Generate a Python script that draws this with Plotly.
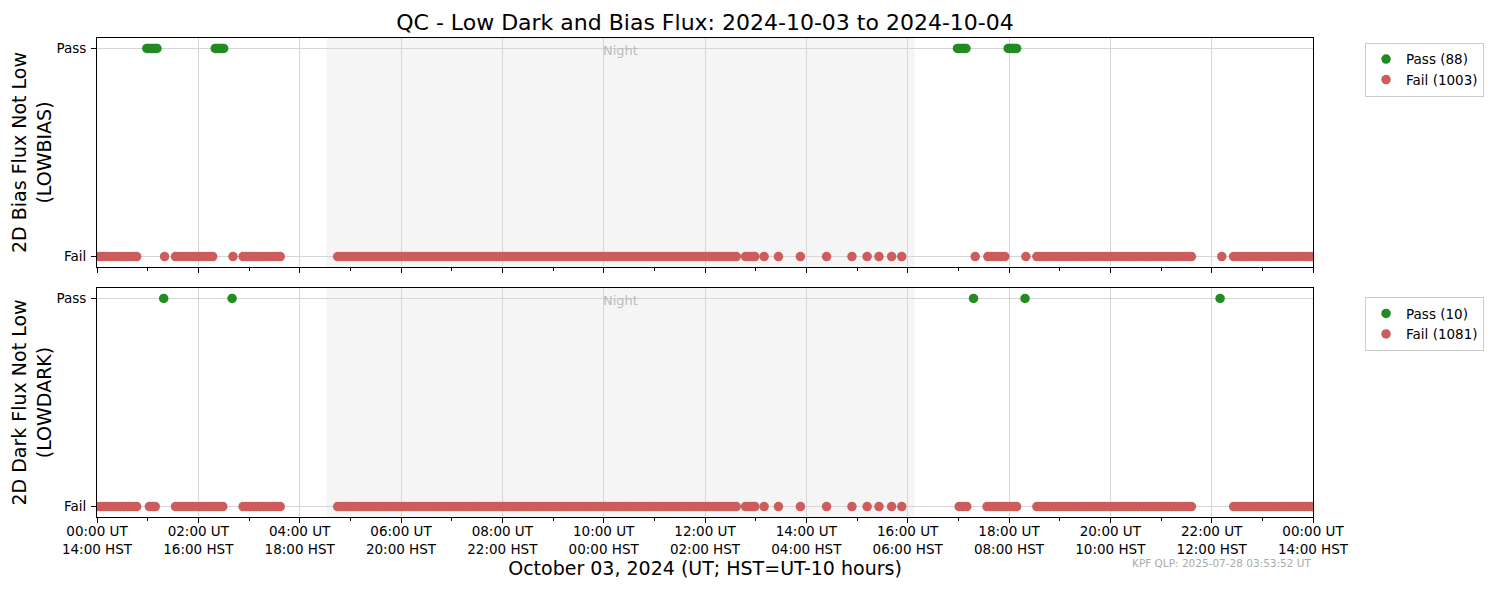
import numpy as np
import plotly.graph_objects as go
from plotly.subplots import make_subplots

# ---- data (minutes after 2024-10-03 00:00 UT) ----
fail_early = [0, 4, 8, 12, 16, 20, 24, 28, 32, 36, 40, 44, 47]
fail_mid_top = [80, 93, 97, 101, 105, 109, 113, 117, 121, 125, 129, 133, 137, 161]
fail_mid_bot = [62, 66, 69, 93, 97, 101, 105, 109, 113, 117, 121, 125, 129, 133, 137,
                141, 145, 149]
fail_run_c = [173, 177, 181, 185, 189, 193, 197, 201, 205, 209, 213, 217]
fail_night = [285, 289, 293, 297, 301, 305, 309, 313, 317, 321,
              325, 329, 333, 337, 341, 345, 349, 353, 357, 361,
              365, 369, 373, 377, 381, 385, 389, 393, 397, 401,
              405, 409, 413, 417, 421, 425, 429, 433, 437, 441,
              445, 449, 453, 457, 461, 465, 469, 473, 477, 481,
              485, 489, 493, 497, 501, 505, 509, 513, 517, 521,
              525, 529, 533, 537, 541, 545, 549, 553, 557, 561,
              565, 569, 573, 577, 581, 585, 589, 593, 597, 601,
              605, 609, 613, 617, 621, 625, 629, 633, 637, 641,
              645, 649, 653, 657, 661, 665, 669, 673, 677, 681,
              685, 689, 693, 697, 701, 705, 709, 713, 717, 721,
              725, 729, 733, 737, 741, 745, 749, 753, 757]
fail_dawn = [768, 772, 776, 779, 790, 807, 833, 864, 894, 912, 926, 941, 953]
fail_pm_top = [1040, 1055, 1059, 1063, 1067, 1071, 1075, 1100]
fail_pm_bot = [1021, 1025, 1030, 1054, 1058, 1062, 1066, 1070, 1074, 1078, 1082,
               1086, 1089]
fail_day = [1113, 1117, 1121, 1125, 1129, 1133, 1137, 1141, 1145, 1149, 1153, 1157,
            1161, 1165, 1169, 1173, 1177, 1181, 1185, 1189, 1193, 1197, 1201, 1205,
            1209, 1213, 1217, 1221, 1225, 1229, 1233, 1237, 1241, 1245, 1249, 1253,
            1257, 1261, 1265, 1269, 1273, 1277, 1281, 1285, 1289, 1293, 1296]
fail_late_top = [1332]
fail_end = [1346, 1350, 1354, 1358, 1362, 1366, 1370, 1374, 1378, 1382, 1386, 1390,
            1394, 1398, 1402, 1406, 1410, 1414, 1418, 1422, 1426, 1430, 1434, 1438, 1440]

pass_top = [59, 61, 63, 65, 67, 69, 71, 140, 142, 144, 146, 148, 150,
            1019, 1021, 1023, 1025, 1027, 1029, 1079, 1081, 1083, 1085, 1087, 1089]
pass_bot = [79, 160, 1038, 1099, 1330]

fail_top = (fail_early + fail_mid_top + fail_run_c + fail_night + fail_dawn
            + fail_pm_top + fail_day + fail_late_top + fail_end)
fail_bot = (fail_early + fail_mid_bot + fail_run_c + fail_night + fail_dawn
            + fail_pm_bot + fail_day + fail_end)

legend_counts_top = {"Pass": 88, "Fail": 1003}
legend_counts_bot = {"Pass": 10, "Fail": 1081}

night_start_min = 272
night_end_min = 968

tick_hours = [0, 2, 4, 6, 8, 10, 12, 14, 16, 18, 20, 22, 24]
tick_ut = ["00:00 UT", "02:00 UT", "04:00 UT", "06:00 UT", "08:00 UT", "10:00 UT",
           "12:00 UT", "14:00 UT", "16:00 UT", "18:00 UT", "20:00 UT", "22:00 UT",
           "00:00 UT"]
tick_hst = ["14:00 HST", "16:00 HST", "18:00 HST", "20:00 HST", "22:00 HST",
            "00:00 HST", "02:00 HST", "04:00 HST", "06:00 HST", "08:00 HST",
            "10:00 HST", "12:00 HST", "14:00 HST"]

GREEN = "#228B22"
RED = "#CD5C5C"
FONT = "DejaVu Sans"

fig = make_subplots(rows=2, cols=1, shared_xaxes=True, vertical_spacing=0.0438)

panels = [
    (1, pass_top, fail_top, legend_counts_top, "legend"),
    (2, pass_bot, fail_bot, legend_counts_bot, "legend2"),
]
for row, p, f, cnt, leg in panels:
    fig.add_trace(go.Scatter(
        x=np.array(p) / 60.0, y=np.ones(len(p)), mode="markers",
        marker=dict(color=GREEN, size=9.5, line=dict(width=0)),
        name=f"Pass ({cnt['Pass']})", legend=leg, cliponaxis=True), row=row, col=1)
    fig.add_trace(go.Scatter(
        x=np.array(f) / 60.0, y=np.zeros(len(f)), mode="markers",
        marker=dict(color=RED, size=9.5, line=dict(width=0)),
        name=f"Fail ({cnt['Fail']})", legend=leg, cliponaxis=True), row=row, col=1)
    fig.add_vrect(x0=night_start_min / 60.0, x1=night_end_min / 60.0,
                  fillcolor="#f5f5f5", line_width=0, layer="below", row=row, col=1)
    fig.add_annotation(x=(night_start_min + night_end_min) / 120.0, y=1.0,
                       xref=f"x{'' if row == 1 else row}", yref=f"y{'' if row == 1 else row}",
                       text="Night", showarrow=False, yshift=-2,
                       font=dict(family=FONT, size=13, color="#bbbbbb"))

ticktext = [f"{a}<br>{b}" for a, b in zip(tick_ut, tick_hst)]
axis_common = dict(showline=True, linecolor="black", linewidth=1, mirror=True,
                   ticks="outside", ticklen=5, tickcolor="black", automargin=False,
                   showgrid=True, gridcolor="#d6d6d6", gridwidth=1, zeroline=False,
                   tickfont=dict(family=FONT, size=13.5, color="black"))

fig.update_xaxes(range=[0, 24], tickmode="array", tickvals=tick_hours, ticktext=ticktext,
                 ticklabelstandoff=-3,
                 minor=dict(tickmode="linear", tick0=0, dtick=1, ticks="outside",
                            ticklen=3, tickcolor="black", showgrid=False),
                 **axis_common)
fig.update_xaxes(showticklabels=False, row=1, col=1)
fig.update_xaxes(title=dict(text="October 03, 2024 (UT; HST=UT-10 hours)",
                            font=dict(family=FONT, size=19, color="black"), standoff=2),
                 row=2, col=1)
fig.update_yaxes(range=[-0.05, 1.05], tickmode="array", tickvals=[0, 1],
                 ticktext=["Fail", "Pass"], ticklabelstandoff=2, **axis_common)
fig.update_yaxes(title=dict(text="2D Bias Flux Not Low<br>(LOWBIAS)",
                            font=dict(family=FONT, size=19, color="black"), standoff=2),
                 row=1, col=1)
fig.update_yaxes(title=dict(text="2D Dark Flux Not Low<br>(LOWDARK)",
                            font=dict(family=FONT, size=19, color="black"), standoff=2),
                 row=2, col=1)

fig.update_yaxes(domain=[0.5219, 1.0], row=1, col=1)
fig.update_yaxes(domain=[0.0, 0.4781], row=2, col=1)

legend_style = dict(font=dict(family=FONT, size=13.5, color="black"),
                    bgcolor="white", bordercolor="#cccccc", borderwidth=1,
                    xanchor="left", yanchor="top", x=1.0428, itemwidth=30,
                    tracegroupgap=2)
fig.update_layout(
    width=1497, height=590,
    margin=dict(l=89, r=192, t=30, b=81, autoexpand=False),
    paper_bgcolor="white", plot_bgcolor="white",
    title=dict(text="QC - Low Dark and Bias Flux: 2024-10-03 to 2024-10-04",
               xref="paper", x=0.5, xanchor="center", y=0.976, yanchor="middle",
               font=dict(family=FONT, size=22, color="black")),
    legend=dict(y=0.99, **legend_style),
    legend2=dict(y=0.459, **legend_style),
    font=dict(family=FONT),
)
fig.add_annotation(text="KPF QLP: 2025-07-28 03:53:52 UT", xref="paper", yref="paper",
                   x=1.0, y=-0.096, xanchor="right", yanchor="middle", showarrow=False,
                   font=dict(family=FONT, size=10.5, color="#aaaaaa"))

fig.write_html("out.html")
